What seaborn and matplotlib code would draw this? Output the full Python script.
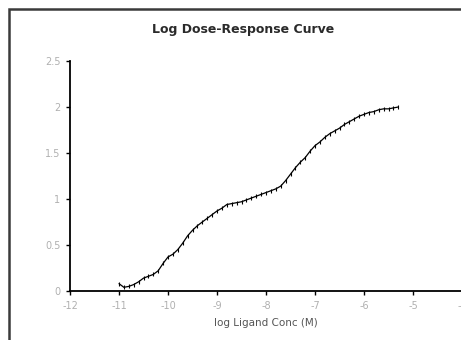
import numpy as np
import pandas as pd
import seaborn as sns
import matplotlib.pyplot as plt
from matplotlib.patches import Rectangle

# log ligand concentration (M) and response
log_conc = [-11.0, -10.9, -10.8, -10.7, -10.6, -10.5, -10.4, -10.3, -10.2, -10.1,
            -10.0, -9.9, -9.8, -9.7, -9.6, -9.5, -9.4, -9.3, -9.2, -9.1,
            -9.0, -8.9, -8.8, -8.7, -8.6, -8.5, -8.4, -8.3, -8.2, -8.1,
            -8.0, -7.9, -7.8, -7.7, -7.6, -7.5, -7.4, -7.3, -7.2, -7.1,
            -7.0, -6.9, -6.8, -6.7, -6.6, -6.5, -6.4, -6.3, -6.2, -6.1,
            -6.0, -5.9, -5.8, -5.7, -5.6, -5.5, -5.4, -5.3]
response = [0.08, 0.04, 0.05, 0.07, 0.10, 0.14, 0.16, 0.18, 0.22, 0.30,
            0.37, 0.40, 0.45, 0.52, 0.60, 0.66, 0.71, 0.75, 0.79, 0.83,
            0.87, 0.90, 0.94, 0.95, 0.96, 0.97, 0.99, 1.01, 1.03, 1.05,
            1.07, 1.09, 1.11, 1.14, 1.20, 1.27, 1.34, 1.40, 1.45, 1.52,
            1.58, 1.62, 1.67, 1.71, 1.74, 1.77, 1.81, 1.84, 1.87, 1.90,
            1.92, 1.94, 1.95, 1.97, 1.98, 1.98, 1.99, 2.00]

x_ticks = [-12, -11, -10, -9, -8, -7, -6, -5, -4]
y_ticks = [0, 0.5, 1, 1.5, 2, 2.5]
y_labels = ['0', '0.5', '1', '1.5', '2', '2.5']

df = pd.DataFrame({'log_conc': log_conc, 'response': response})

sns.set_style("ticks")
plt.rcParams['font.family'] = ['DejaVu Sans']

W, H = 461, 340
fig = plt.figure(figsize=(W / 100, H / 100), dpi=100)
fig.patch.set_facecolor('white')

# outer chart frame (cropped at right and bottom in the reference)
fig.patches.append(Rectangle((9 / W, -0.1), 1.2, (H - 9) / H + 0.1,
                             transform=fig.transFigure, fill=False,
                             edgecolor='#3a3a3a', linewidth=1.8))

ax = fig.add_axes([70 / W, 49 / H, 392 / W, 230 / H])
sns.lineplot(data=df, x='log_conc', y='response', ax=ax, sort=False,
             color='black', linewidth=0.9, marker='|', markersize=3,
             markeredgewidth=0.8, markeredgecolor='black')

ax.set_xlim(-12, -4)
ax.set_ylim(0, 2.5)
ax.set_xticks(x_ticks)
ax.set_xticklabels([str(t) for t in x_ticks])
ax.set_yticks(y_ticks)
ax.set_yticklabels(y_labels)
ax.tick_params(axis='both', labelsize=7, labelcolor='#b0b0b0', length=3,
               width=1, color='black', direction='out', pad=4)
sns.despine(ax=ax, top=True, right=True)
for side in ['left', 'bottom']:
    ax.spines[side].set_linewidth(1.3)
    ax.spines[side].set_color('black')

ax.set_xlabel('log Ligand Conc (M)', fontsize=7.5, color='#555555', labelpad=5)
ax.set_ylabel('')
fig.text(243 / W, 1 - 30 / H, 'Log Dose-Response Curve', ha='center', va='center',
         fontsize=9, fontweight='bold', color='#2a2a2a')

fig.savefig('out.png', dpi=100, facecolor='white')
